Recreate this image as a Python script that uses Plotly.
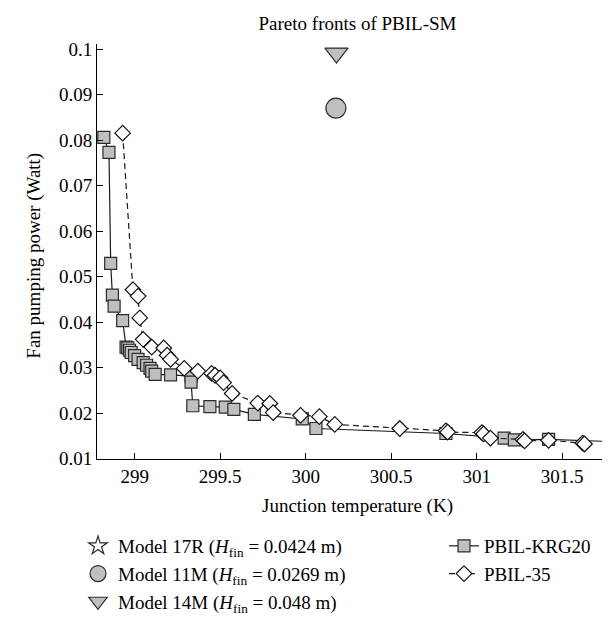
import plotly.graph_objects as go

# ---------------- data ----------------
krg20_temp = [298.82, 298.85, 298.86, 298.87, 298.88, 298.93, 298.95, 298.96, 298.97, 298.98,
              299.00, 299.02, 299.05, 299.07, 299.09, 299.10, 299.12, 299.21, 299.33, 299.33,
              299.34, 299.44, 299.53, 299.58, 299.70, 299.98, 300.06, 300.82, 301.16, 301.22,
              301.42, 301.81]
krg20_power = [0.0806, 0.0773, 0.0529, 0.0459, 0.0435, 0.0403, 0.0345, 0.0343, 0.0338, 0.0333,
               0.0326, 0.0318, 0.0311, 0.0305, 0.0298, 0.0292, 0.0285, 0.0284, 0.0281, 0.0268,
               0.0216, 0.0214, 0.0213, 0.0208, 0.0197, 0.0187, 0.0166, 0.0155, 0.0145, 0.0141,
               0.0142, 0.0137]

pbil35_temp = [298.93, 298.99, 299.02, 299.03, 299.05, 299.10, 299.17, 299.19, 299.21, 299.29,
               299.37, 299.45, 299.47, 299.50, 299.52, 299.57, 299.72, 299.79, 299.81, 299.97,
               300.08, 300.17, 300.55, 300.82, 300.83, 301.03, 301.04, 301.08, 301.27, 301.28,
               301.42, 301.62, 301.63]
pbil35_power = [0.0815, 0.0471, 0.0457, 0.0409, 0.0362, 0.0345, 0.0343, 0.0327, 0.0318, 0.0298,
                0.0292, 0.0287, 0.0283, 0.0277, 0.0267, 0.0243, 0.0222, 0.0221, 0.0201, 0.0195,
                0.0192, 0.0175, 0.0166, 0.0161, 0.0158, 0.0157, 0.0154, 0.0145, 0.0142, 0.0139,
                0.0140, 0.0134, 0.0132]

model17r_temp = [None]
model17r_power = [None]
model11m_temp = [300.177]
model11m_power = [0.0870]
model14m_temp = [300.18]
model14m_power = [0.0991]

x_tick_vals = [299, 299.5, 300, 300.5, 301, 301.5]
x_tick_text = ["299", "299.5", "300", "300.5", "301", "301.5"]
y_tick_vals = [0.01, 0.02, 0.03, 0.04, 0.05, 0.06, 0.07, 0.08, 0.09, 0.1]
y_tick_text = ["0.01", "0.02", "0.03", "0.04", "0.05", "0.06", "0.07", "0.08", "0.09", "0.1"]

# ---------------- style ----------------
FONT = "Liberation Serif"
FS = 19
W, H = 610, 617
ML, MR, MT, MB = 89, 0, 36, 166
GRAY = "#bfbfbf"
EDGE = "#2b2b2b"

fig = go.Figure()

fig.add_trace(go.Scatter(
    x=model17r_temp, y=model17r_power, mode="markers",
    name="Model 17R (<i>H</i><sub>fin</sub> = 0.0424 m)",
    marker=dict(symbol="star", size=14, color="white", line=dict(color=EDGE, width=1.2)),
    legend="legend"))
fig.add_trace(go.Scatter(
    x=model11m_temp, y=model11m_power, mode="markers",
    name="Model 11M (<i>H</i><sub>fin</sub> = 0.0269 m)",
    marker=dict(symbol="circle", size=20, color=GRAY, line=dict(color=EDGE, width=1.2)),
    legend="legend"))
fig.add_trace(go.Scatter(
    x=model14m_temp, y=model14m_power, mode="markers",
    name="Model 14M (<i>H</i><sub>fin</sub> = 0.048 m)",
    marker=dict(symbol="triangle-down", size=20, color=GRAY, line=dict(color=EDGE, width=1.2)),
    legend="legend"))
fig.add_trace(go.Scatter(
    x=krg20_temp, y=krg20_power, mode="lines+markers", name="PBIL-KRG20",
    line=dict(color="#1a1a1a", width=1.2),
    marker=dict(symbol="square", size=12, color=GRAY, line=dict(color=EDGE, width=1.2)),
    legend="legend2"))
fig.add_trace(go.Scatter(
    x=pbil35_temp, y=pbil35_power, mode="lines+markers", name="PBIL-35",
    line=dict(color="#1a1a1a", width=1.2, dash="6px,4px"),
    marker=dict(symbol="diamond", size=12, color="white", line=dict(color="#111111", width=1.2)),
    legend="legend2"))

axis_common = dict(
    showline=True, linecolor="black", linewidth=1,
    ticks="inside", ticklen=6, tickwidth=1, tickcolor="black",
    showgrid=False, zeroline=False, mirror=False, automargin=False,
    tickfont=dict(family=FONT, size=FS, color="black"),
)

plot_w = W - ML - MR

fig.update_layout(
    width=W, height=H,
    margin=dict(l=ML, r=MR, t=MT, b=MB, autoexpand=False),
    paper_bgcolor="white", plot_bgcolor="white",
    font=dict(family=FONT, size=FS, color="black"),
    title=dict(text="Pareto fronts of PBIL-SM", x=0.5, xref="paper", xanchor="center",
               y=1 - 15 / H, yref="container", yanchor="middle",
               font=dict(family=FONT, size=FS, color="black")),
    xaxis=dict(range=[298.78, 301.826], tickvals=x_tick_vals, ticktext=x_tick_text,
               title=dict(text="Junction temperature (K)", standoff=12,
                          font=dict(family=FONT, size=FS, color="black")),
               **axis_common),
    yaxis=dict(range=[0.0099, 0.1011], tickvals=y_tick_vals, ticktext=y_tick_text,
               **axis_common),
    legend=dict(xref="container", yref="container", x=70 / W, y=1 - 519 / H,
                xanchor="left", yanchor="top", bgcolor="rgba(0,0,0,0)",
                font=dict(family=FONT, size=FS, color="black"), tracegroupgap=0),
    legend2=dict(xref="container", yref="container", x=436 / W, y=1 - 519 / H,
                 xanchor="left", yanchor="top", bgcolor="rgba(0,0,0,0)",
                 font=dict(family=FONT, size=FS, color="black"), tracegroupgap=0),
    showlegend=True,
    annotations=[dict(
        text="Fan pumping power (Watt)", textangle=-90,
        xref="paper", yref="paper", x=(26 - ML) / plot_w, y=0.49,
        xanchor="center", yanchor="middle", showarrow=False,
        font=dict(family=FONT, size=FS, color="black"))],
)

fig.write_html("out.html")
